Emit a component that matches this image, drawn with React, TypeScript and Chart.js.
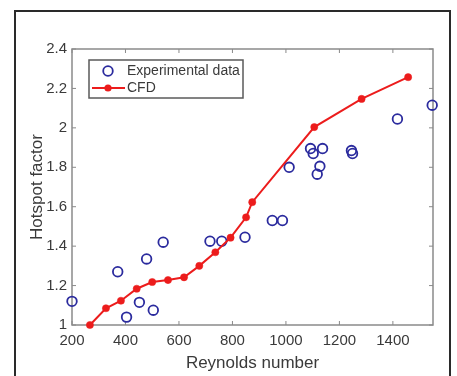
import React, { useEffect, useRef } from 'react';
import { Chart, registerables } from 'chart.js';

Chart.register(...registerables);

// Experimental data (blue open circles)
const expReynolds = [200, 371, 404, 452, 479, 504, 541, 716, 760, 847, 949, 987, 1012, 1092, 1102, 1137, 1127, 1117, 1245, 1249, 1417, 1547];
const expHotspot = [1.12, 1.27, 1.04, 1.115, 1.335, 1.075, 1.42, 1.425, 1.425, 1.445, 1.53, 1.53, 1.80, 1.895, 1.87, 1.895, 1.805, 1.765, 1.885, 1.87, 2.045, 2.115];

// CFD (red line with markers)
const cfdReynolds = [267, 327, 383, 442, 500, 559, 619, 676, 736, 793, 851, 874, 1106, 1283, 1457];
const cfdHotspot = [1.0, 1.085, 1.123, 1.184, 1.218, 1.228, 1.242, 1.3, 1.369, 1.443, 1.546, 1.623, 2.004, 2.147, 2.257];

const xTickValues = [200, 400, 600, 800, 1000, 1200, 1400];
const yTickValues = [1, 1.2, 1.4, 1.6, 1.8, 2, 2.2, 2.4];

const xTitle = 'Reynolds number';
const yTitle = 'Hotspot factor';
const legendLabels = ['Experimental data', 'CFD'];

const FONT = '"Liberation Sans", Arial, sans-serif';
const BLUE = '#2b2b9e';
const RED = '#ec1c1c';
const TEXT = '#3a3a3a';

export default function App() {
  const ref = useRef<HTMLCanvasElement>(null);

  useEffect(() => {
    const canvas = ref.current;
    if (!canvas) return;

    const decor = {
      id: 'decor',
      beforeDraw(chart: any) {
        const ctx = chart.ctx;
        ctx.save();
        ctx.fillStyle = '#ffffff';
        ctx.fillRect(0, 0, chart.width, chart.height);
        ctx.strokeStyle = '#2a2a2a';
        ctx.lineWidth = 2;
        ctx.beginPath();
        ctx.moveTo(15, 400);
        ctx.lineTo(15, 11);
        ctx.lineTo(450, 11);
        ctx.lineTo(450, 400);
        ctx.stroke();
        ctx.restore();
      },
      beforeDatasetsDraw(chart: any) {
        const ctx = chart.ctx;
        const a = chart.chartArea;
        const xs = chart.scales.x;
        const ys = chart.scales.y;
        ctx.save();
        ctx.strokeStyle = '#8a8a8a';
        ctx.lineWidth = 1.5;
        ctx.strokeRect(a.left, a.top, a.right - a.left, a.bottom - a.top);
        ctx.lineWidth = 1;
        ctx.beginPath();
        const tl = 4;
        xs.ticks.forEach((t: any) => {
          const px = xs.getPixelForValue(t.value);
          ctx.moveTo(px, a.bottom);
          ctx.lineTo(px, a.bottom - tl);
          ctx.moveTo(px, a.top);
          ctx.lineTo(px, a.top + tl);
        });
        ys.ticks.forEach((t: any) => {
          const py = ys.getPixelForValue(t.value);
          ctx.moveTo(a.left, py);
          ctx.lineTo(a.left + tl, py);
          ctx.moveTo(a.right, py);
          ctx.lineTo(a.right - tl, py);
        });
        ctx.stroke();
        ctx.restore();
      },
      afterDraw(chart: any) {
        const ctx = chart.ctx;
        ctx.save();
        // legend box
        ctx.fillStyle = '#ffffff';
        ctx.fillRect(89, 60, 154, 38);
        ctx.strokeStyle = '#5a5a5a';
        ctx.lineWidth = 1.5;
        ctx.strokeRect(89, 60, 154, 38);
        // entry 1: circle
        ctx.strokeStyle = BLUE;
        ctx.lineWidth = 1.8;
        ctx.beginPath();
        ctx.arc(108, 71, 4.8, 0, Math.PI * 2);
        ctx.stroke();
        // entry 2: red line with marker
        ctx.strokeStyle = RED;
        ctx.lineWidth = 2;
        ctx.beginPath();
        ctx.moveTo(92, 88);
        ctx.lineTo(125, 88);
        ctx.stroke();
        ctx.fillStyle = RED;
        ctx.beginPath();
        ctx.arc(108, 88, 3.6, 0, Math.PI * 2);
        ctx.fill();
        // text
        ctx.fillStyle = TEXT;
        ctx.font = `14px ${FONT}`;
        ctx.textBaseline = 'middle';
        ctx.textAlign = 'left';
        ctx.fillText(legendLabels[0], 127, 71);
        ctx.fillText(legendLabels[1], 127, 88);
        ctx.restore();
      },
    };

    const chart = new Chart(canvas, {
      type: 'scatter',
      data: {
        datasets: [
          {
            label: legendLabels[0],
            data: expReynolds.map((x, i) => ({ x, y: expHotspot[i] })),
            showLine: false,
            pointStyle: 'circle',
            pointRadius: 4.8,
            pointBorderWidth: 1.8,
            pointBackgroundColor: 'rgba(0,0,0,0)',
            pointBorderColor: BLUE,
            borderColor: BLUE,
            clip: false as any,
            order: 2,
          },
          {
            label: legendLabels[1],
            data: cfdReynolds.map((x, i) => ({ x, y: cfdHotspot[i] })),
            showLine: true,
            borderColor: RED,
            borderWidth: 2,
            pointRadius: 3.6,
            pointBackgroundColor: RED,
            pointBorderColor: RED,
            pointBorderWidth: 0.5,
            tension: 0,
            clip: false as any,
            order: 1,
          },
        ],
      },
      options: {
        animation: false,
        responsive: false,
        events: [],
        layout: { padding: { left: 0, right: 24, top: 49, bottom: 0 } },
        plugins: {
          legend: { display: false },
          tooltip: { enabled: false },
        },
        scales: {
          x: {
            type: 'linear',
            min: 200,
            max: 1550,
            afterBuildTicks: (scale: any) => {
              scale.ticks = xTickValues.map((v) => ({ value: v }));
            },
            afterFit: (scale: any) => {
              scale.height = 51;
            },
            grid: { display: false, drawTicks: false },
            border: { display: false },
            ticks: {
              padding: 7,
              color: TEXT,
              font: { family: FONT, size: 15 },
              maxRotation: 0,
              autoSkip: false,
              callback: (v: any) => String(v),
            },
            title: {
              display: true,
              text: xTitle,
              color: TEXT,
              font: { family: FONT, size: 17 },
              padding: { top: 0, bottom: 2 },
            },
          },
          y: {
            type: 'linear',
            min: 1,
            max: 2.4,
            afterBuildTicks: (scale: any) => {
              scale.ticks = yTickValues.map((v) => ({ value: v }));
            },
            afterFit: (scale: any) => {
              scale.width = 72;
            },
            grid: { display: false, drawTicks: false },
            border: { display: false },
            ticks: {
              padding: 5,
              color: TEXT,
              font: { family: FONT, size: 15 },
              autoSkip: false,
              callback: (v: any) => String(Number(Number(v).toFixed(1))),
            },
            title: {
              display: true,
              text: yTitle,
              color: TEXT,
              font: { family: FONT, size: 17 },
              padding: { top: 27, bottom: 0 },
            },
          },
        },
      },
      plugins: [decor],
    } as any);

    return () => chart.destroy();
  }, []);

  return (
    <div style={{ position: 'fixed', left: 0, top: 0, width: 457, height: 376, background: '#fff' }}>
      <canvas ref={ref} width={457} height={376} style={{ display: 'block' }} />
    </div>
  );
}
